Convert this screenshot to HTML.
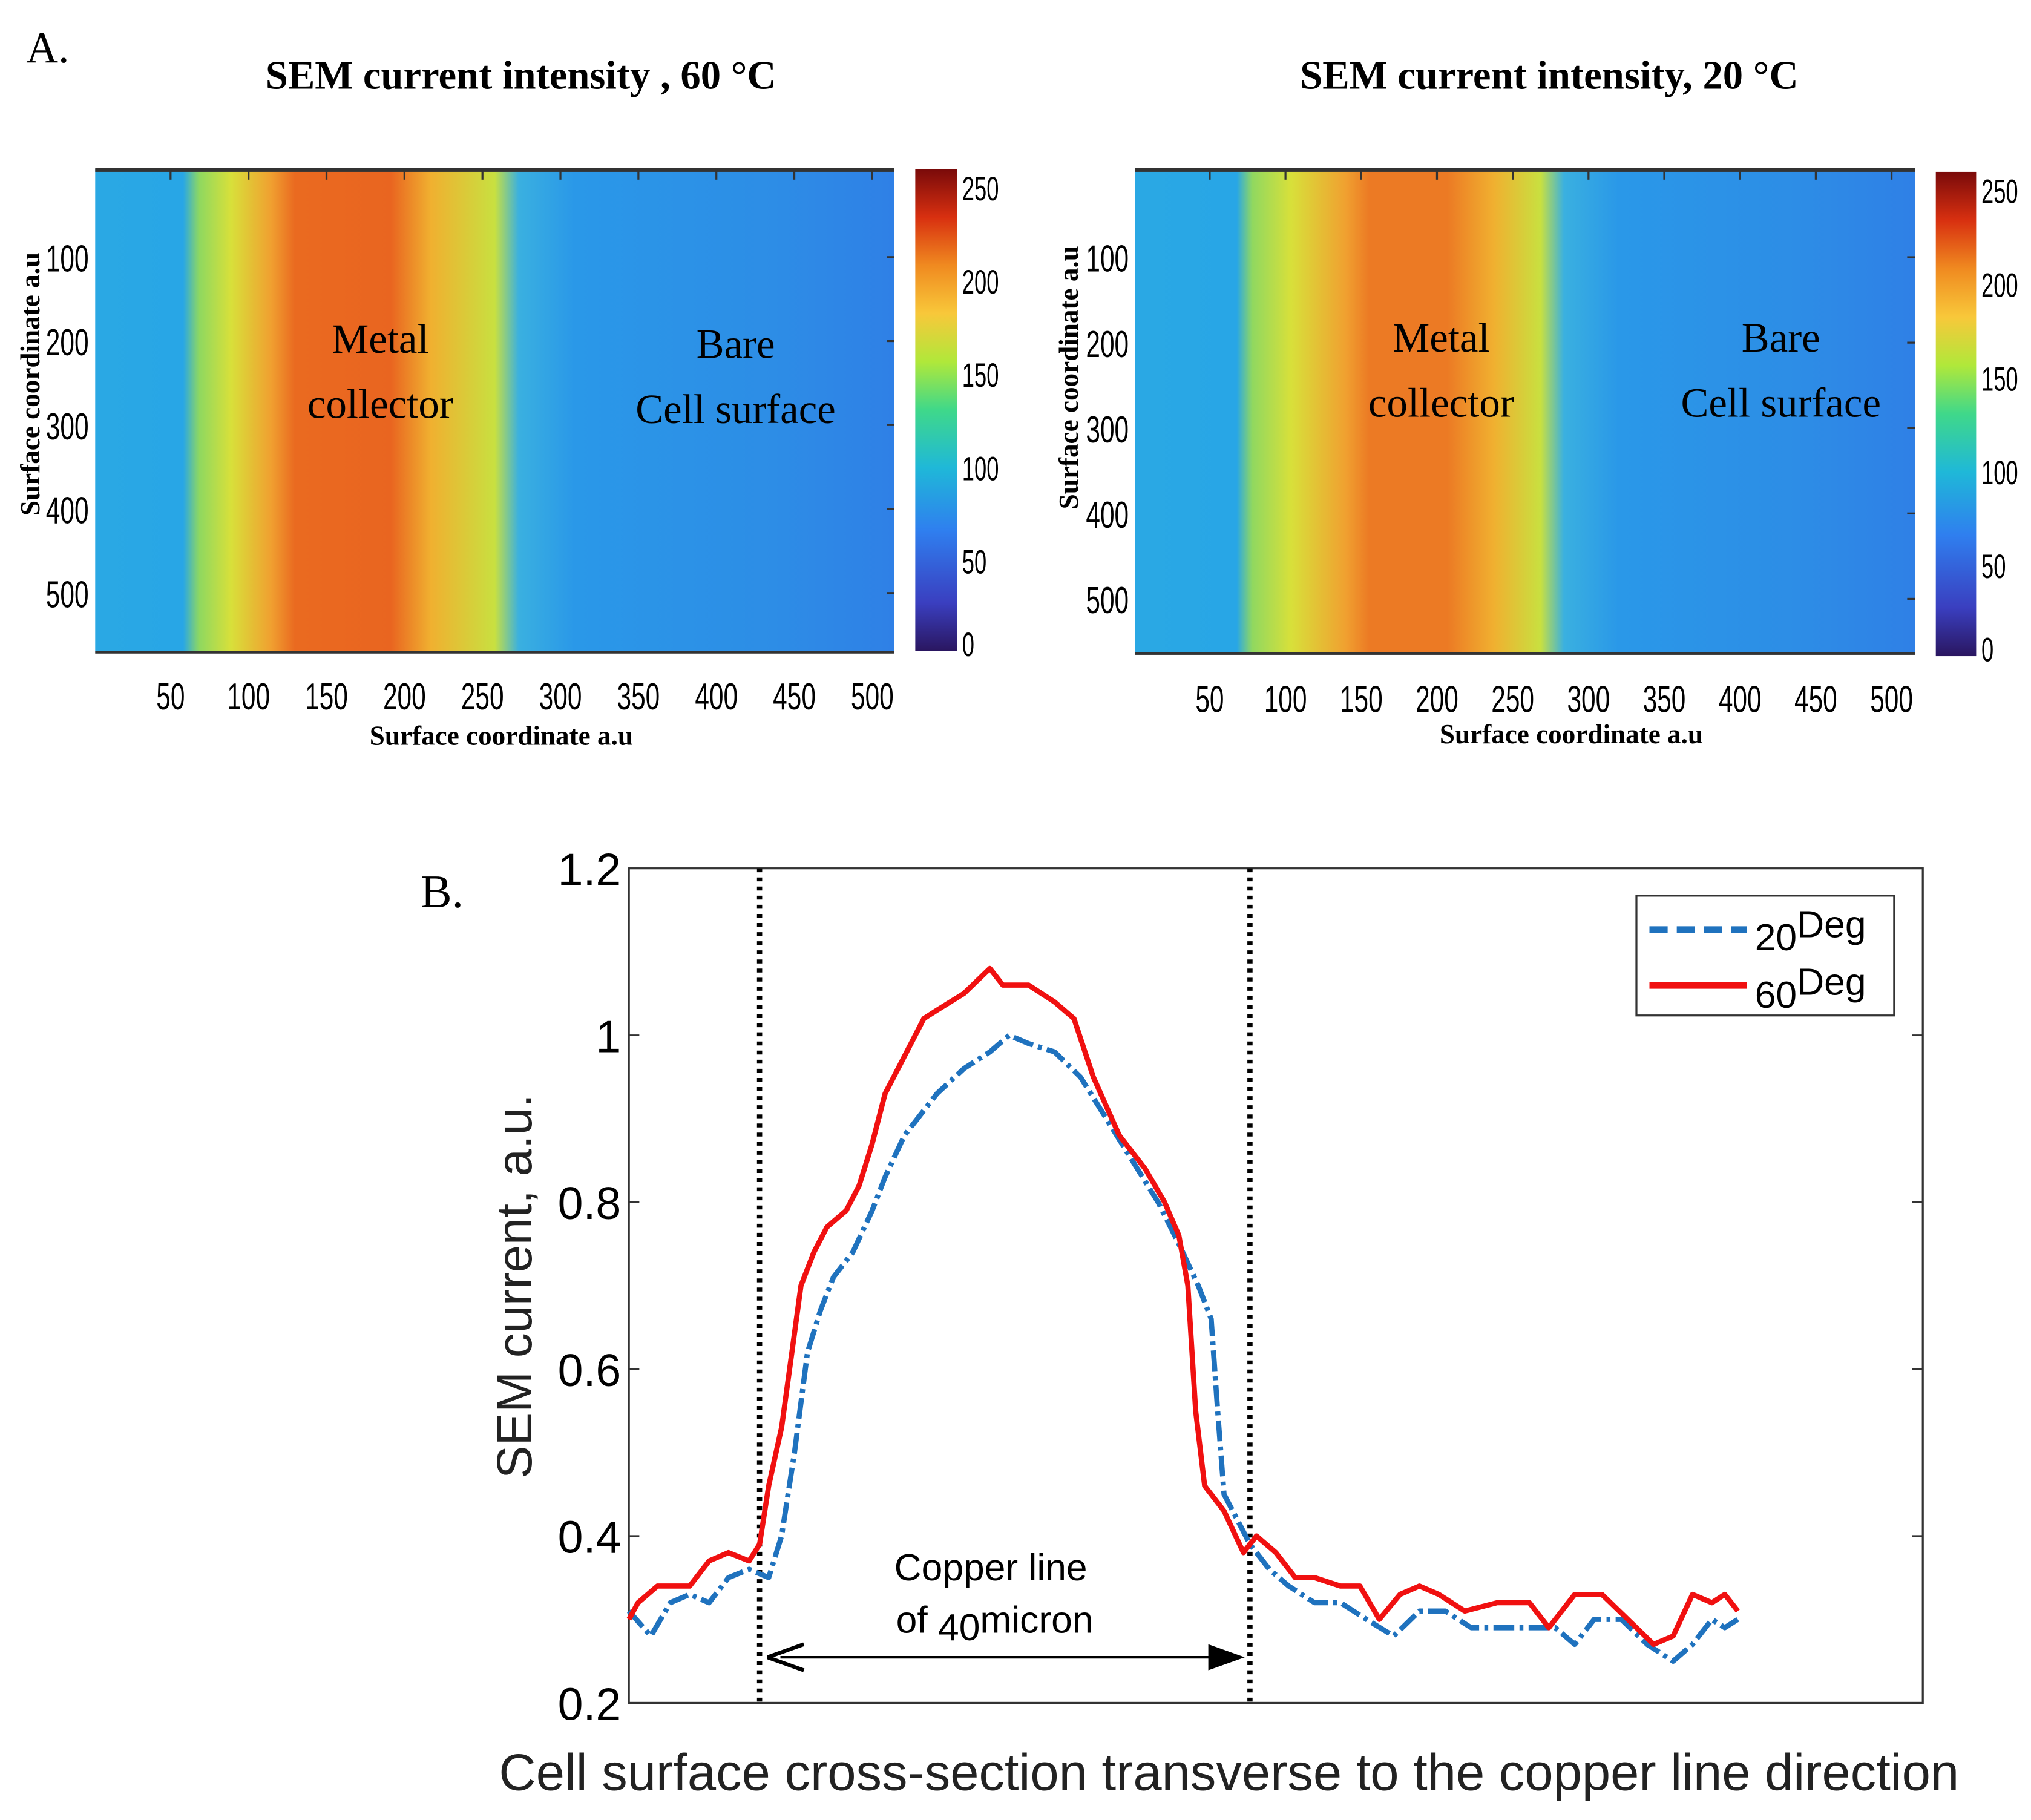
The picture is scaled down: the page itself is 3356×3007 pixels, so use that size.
<!DOCTYPE html>
<html><head><meta charset="utf-8"><style>
html,body{margin:0;padding:0;background:#fff;}
svg{display:block;}
</style></head><body>
<svg id="fig" xmlns="http://www.w3.org/2000/svg" width="3356" height="3007" viewBox="0 0 1560 1398">
<defs>
<linearGradient id="jet" x1="0" y1="1" x2="0" y2="0">
<stop offset="0" stop-color="#2a1660"/><stop offset="0.1" stop-color="#3a3fc0"/><stop offset="0.25" stop-color="#2f7fef"/><stop offset="0.38" stop-color="#1fb8d8"/><stop offset="0.5" stop-color="#3fd88a"/><stop offset="0.6" stop-color="#b0e83a"/><stop offset="0.7" stop-color="#f8c83a"/><stop offset="0.8" stop-color="#f08a20"/><stop offset="0.9" stop-color="#d83010"/><stop offset="1" stop-color="#7a0a0a"/>
</linearGradient>
<linearGradient id="mapL" x1="0" y1="0" x2="1" y2="0">
<stop offset="0" stop-color="#2aa8e4"/><stop offset="0.11" stop-color="#28a6e6"/><stop offset="0.13" stop-color="#8ed860"/><stop offset="0.17" stop-color="#d8e03a"/><stop offset="0.22" stop-color="#f0a030"/><stop offset="0.25" stop-color="#ea6a20"/><stop offset="0.37" stop-color="#e96520"/><stop offset="0.42" stop-color="#f0b030"/><stop offset="0.5" stop-color="#c8e040"/><stop offset="0.53" stop-color="#3ab0e0"/><stop offset="0.6" stop-color="#2a98e8"/><stop offset="0.85" stop-color="#2d8de6"/><stop offset="1" stop-color="#2f80e6"/>
</linearGradient>
<linearGradient id="mapR" x1="0" y1="0" x2="1" y2="0">
<stop offset="0" stop-color="#2aa8e4"/><stop offset="0.13" stop-color="#28a6e6"/><stop offset="0.15" stop-color="#90d860"/><stop offset="0.2" stop-color="#d8e03a"/><stop offset="0.27" stop-color="#f0a030"/><stop offset="0.3" stop-color="#ec7a24"/><stop offset="0.4" stop-color="#ec7a24"/><stop offset="0.46" stop-color="#f0b030"/><stop offset="0.52" stop-color="#c8e040"/><stop offset="0.55" stop-color="#3ab0e0"/><stop offset="0.62" stop-color="#2a98e8"/><stop offset="0.85" stop-color="#2d8de6"/><stop offset="1" stop-color="#2f80e6"/>
</linearGradient>
</defs>

<text x="20" y="48" font-family="Liberation Serif, serif" font-size="34">A.</text>
<text x="400" y="68" text-anchor="middle" font-family="Liberation Serif, serif" font-weight="bold" font-size="31">SEM current intensity , 60 °C</text>
<text x="1190" y="68" text-anchor="middle" font-family="Liberation Serif, serif" font-weight="bold" font-size="31">SEM current intensity, 20 °C</text>

<g id="leftMap">
<rect x="73" y="130" width="614" height="370" fill="url(#mapL)"/>
<rect x="73" y="129" width="614" height="3" fill="#333"/>
<rect x="73" y="500" width="614" height="2" fill="#333"/>
<text x="292" y="271" text-anchor="middle" font-family="Liberation Serif, serif" font-size="32">Metal</text>
<text x="292" y="321" text-anchor="middle" font-family="Liberation Serif, serif" font-size="32">collector</text>
<text x="565" y="275" text-anchor="middle" font-family="Liberation Serif, serif" font-size="32">Bare</text>
<text x="565" y="325" text-anchor="middle" font-family="Liberation Serif, serif" font-size="32">Cell surface</text>
<text x="385" y="572" text-anchor="middle" font-family="Liberation Serif, serif" font-weight="bold" font-size="21">Surface coordinate a.u</text>
<text transform="translate(30,295) rotate(-90)" text-anchor="middle" font-family="Liberation Serif, serif" font-weight="bold" font-size="21">Surface coordinate a.u</text>
<rect x="703" y="130" width="32" height="370" fill="url(#jet)"/>
</g>
<g id="rightMap">
<rect x="872" y="130" width="599" height="372" fill="url(#mapR)"/>
<rect x="872" y="129" width="599" height="3" fill="#333"/>
<rect x="872" y="501" width="599" height="2" fill="#333"/>
<text x="1107" y="270" text-anchor="middle" font-family="Liberation Serif, serif" font-size="32">Metal</text>
<text x="1107" y="320" text-anchor="middle" font-family="Liberation Serif, serif" font-size="32">collector</text>
<text x="1368" y="270" text-anchor="middle" font-family="Liberation Serif, serif" font-size="32">Bare</text>
<text x="1368" y="320" text-anchor="middle" font-family="Liberation Serif, serif" font-size="32">Cell surface</text>
<text x="1207" y="571" text-anchor="middle" font-family="Liberation Serif, serif" font-weight="bold" font-size="21">Surface coordinate a.u</text>
<text transform="translate(828,290) rotate(-90)" text-anchor="middle" font-family="Liberation Serif, serif" font-weight="bold" font-size="21">Surface coordinate a.u</text>
<rect x="1487" y="132" width="31" height="372" fill="url(#jet)"/>
</g>

<g id="plotB"></g>
</svg>
<script>
const mapTicks=[50,100,150,200,250,300,350,400,450,500];
const yMapTicks=[100,200,300,400,500];
const cbTicks=[0,50,100,150,200,250];
const xs60=[0,0.7,2.2,3.7,4.7,6.2,7.7,9.3,10.1,10.8,11.8,12.6,13.3,14.3,15.3,16.8,17.8,18.8,19.8,20.8,21.8,22.8,23.8,25.9,27.9,28.9,30.9,32.9,34.4,35.9,37.9,39.9,41.4,42.5,43.2,43.8,44.5,46.0,47.5,48.5,50.0,51.5,53.0,55.0,56.5,58.0,59.6,61.1,62.6,64.6,67.1,69.6,71.1,73.1,75.2,77.2,79.2,80.7,82.2,83.7,84.7,85.7];
const ys60=[0.30,0.32,0.34,0.34,0.34,0.37,0.38,0.37,0.39,0.46,0.53,0.62,0.70,0.74,0.77,0.79,0.82,0.87,0.93,0.96,0.99,1.02,1.03,1.05,1.08,1.06,1.06,1.04,1.02,0.95,0.88,0.84,0.80,0.76,0.70,0.55,0.46,0.43,0.38,0.40,0.38,0.35,0.35,0.34,0.34,0.30,0.33,0.34,0.33,0.31,0.32,0.32,0.29,0.33,0.33,0.30,0.27,0.28,0.33,0.32,0.33,0.31];
const xs20=[0,1.7,3.2,4.7,6.2,7.7,9.3,10.8,11.8,12.8,13.8,14.8,15.8,17.3,18.8,19.8,21.3,22.3,23.8,25.9,27.9,29.4,30.9,32.9,34.9,36.9,38.9,40.9,42.5,44.0,45.0,45.5,46.0,47.0,48.0,49.5,51.0,53.0,55.0,57.0,59.1,61.1,63.1,65.1,67.1,69.6,71.6,73.1,74.6,76.7,78.7,80.7,82.2,83.7,84.7,85.7];
const ys20=[0.31,0.28,0.32,0.33,0.32,0.35,0.36,0.35,0.40,0.50,0.62,0.67,0.71,0.74,0.79,0.83,0.88,0.90,0.93,0.96,0.98,1.00,0.99,0.98,0.95,0.90,0.85,0.80,0.75,0.70,0.66,0.55,0.45,0.42,0.39,0.36,0.34,0.32,0.32,0.30,0.28,0.31,0.31,0.29,0.29,0.29,0.29,0.27,0.30,0.30,0.27,0.25,0.27,0.30,0.29,0.30];
const yTicks=[0.2,0.4,0.6,0.8,1,1.2];
const yTickLabels=["0.2","0.4","0.6","0.8","1","1.2"];
const markers=[10.1,48.0];

const NS="http://www.w3.org/2000/svg";
function mk(tag,attrs,parent,text){const e=document.createElementNS(NS,tag);for(const k in attrs)e.setAttribute(k,attrs[k]);if(text!==undefined)e.textContent=text;parent.appendChild(e);return e;}

function mapAxes(g,x0,x1,y0,y1,xu0,xu,yu0,yu,cbx,cby0,cby1){
  mapTicks.forEach(t=>{const x=xu0+t*xu;
    const tk=mk('line',{x1:x,x2:x,y1:y0,y2:y0+8,stroke:'#333','stroke-width':1.5},g);
    
    const yy=y1+45;
    const l=mk('text',{x:x,y:yy,'text-anchor':'middle','font-family':'Liberation Sans, sans-serif','font-size':29,transform:`translate(${x},${yy}) scale(0.68,1) translate(${-x},${-yy})`},g,String(t));
    });
  yMapTicks.forEach(t=>{const y=yu0+t*yu;
    mk('line',{x1:x1-6,x2:x1,y1:y,y2:y,stroke:'#333','stroke-width':1.5},g);
    const l=mk('text',{x:x0-5,y:y+11,'text-anchor':'end','font-family':'Liberation Sans, sans-serif','font-size':29,transform:`translate(${x0-5},${y+11}) scale(0.68,1) translate(${-(x0-5)},${-(y+11)})`},g,String(t));
    });
  cbTicks.forEach(t=>{const y=cby1-(t/250)*(cby1-cby0)+ (t===0?4:12);
    const l=mk('text',{x:cbx,y:y,'font-family':'Liberation Sans, sans-serif','font-size':26,transform:`translate(${cbx},${y}) scale(0.65,1) translate(${-cbx},${-y})`},g,String(t));
    });
}
mapAxes(document.getElementById('leftMap'),73,687,130,500,71,1.198,133,0.645,739,142,500);
mapAxes(document.getElementById('rightMap'),872,1471,130,502,871,1.164,132,0.656,1522,144,504);

const g=document.getElementById('plotB');
const L=483,R=1477,T=667,B=1308;
const xS=v=>L+v*9.94;
const yS=v=>B-(v-0.2)/1.0*(B-T);
mk('text',{x:323,y:697,'font-family':'Liberation Serif, serif','font-size':36},g,'B.');
const frame=mk('rect',{x:L,y:T,width:R-L,height:B-T,fill:'none',stroke:'#333','stroke-width':1.5},g);

yTicks.forEach((t,i)=>{const y=yS(t);
  mk('line',{x1:L,x2:L+8,y1:y,y2:y,stroke:'#333','stroke-width':1.2},g);
  mk('line',{x1:R-8,x2:R,y1:y,y2:y,stroke:'#333','stroke-width':1.2},g);
  const l=mk('text',{x:477,y:y+13,'text-anchor':'end','font-family':'Liberation Sans, sans-serif','font-size':35},g,yTickLabels[i]);
  });
const yt=mk('text',{transform:'translate(408,988) rotate(-90)','text-anchor':'middle','font-family':'Liberation Sans, sans-serif','font-size':38,fill:'#222'},g,'SEM current, a.u.');

const xt=mk('text',{x:944,y:1375,'text-anchor':'middle','font-family':'Liberation Sans, sans-serif','font-size':39.5,fill:'#222'},g,'Cell surface cross\u2011section transverse to the copper line direction');

markers.forEach(m=>{const x=xS(m);
  const l=mk('line',{x1:x,x2:x,y1:T,y2:B,stroke:'#000','stroke-width':4,'stroke-dasharray':'3 4'},g);
  });
function path(xs,ys){return xs.map((x,i)=>(i?'L':'M')+xS(x).toFixed(1)+','+yS(ys[i]).toFixed(1)).join(' ');}
const p20=mk('path',{d:path(xs20,ys20),fill:'none',stroke:'#1f72be','stroke-width':4,'stroke-dasharray':'16 4 3 4','stroke-linejoin':'round'},g);

const p60=mk('path',{d:path(xs60,ys60),fill:'none',stroke:'#f01010','stroke-width':4,'stroke-linejoin':'round'},g);

const ay=1273,ax0=xS(markers[0])+6,ax1=xS(markers[1])-4;
const ar=mk('line',{x1:ax0+10,x2:ax1-10,y1:ay,y2:ay,stroke:'#000','stroke-width':2},g);

mk('path',{d:`M${ax0},${ay} L${ax0+28},${ay-10} M${ax0},${ay} L${ax0+28},${ay+10}`,stroke:'#000','stroke-width':3,fill:'none'},g);
mk('path',{d:`M${ax1},${ay} L${ax1-28},${ay-10} L${ax1-28},${ay+10} Z`,fill:'#000'},g);
const a1=mk('text',{x:761,y:1214,'text-anchor':'middle','font-family':'Liberation Sans, sans-serif','font-size':29},g,'Copper line');

const a2=mk('text',{x:764,y:1254,'text-anchor':'middle','font-family':'Liberation Sans, sans-serif','font-size':29},g);

a2.innerHTML='of <tspan dy="6">40</tspan><tspan dy="-6">micron</tspan>';
const lg=mk('g',{},g);

mk('rect',{x:1257,y:688,width:198,height:92,fill:'#fff',stroke:'#333','stroke-width':1.5},lg);
mk('line',{x1:1267,x2:1342,y1:714,y2:714,stroke:'#1f72be','stroke-width':5,'stroke-dasharray':'14 7'},lg);
mk('line',{x1:1267,x2:1342,y1:757,y2:757,stroke:'#f01010','stroke-width':5},lg);
const e1=mk('text',{x:1348,y:730,'font-family':'Liberation Sans, sans-serif','font-size':29},lg);

e1.innerHTML='20<tspan dy="-10">Deg</tspan>';
const e2=mk('text',{x:1348,y:774,'font-family':'Liberation Sans, sans-serif','font-size':29},lg);

e2.innerHTML='60<tspan dy="-10">Deg</tspan>';
</script>
</body></html>
